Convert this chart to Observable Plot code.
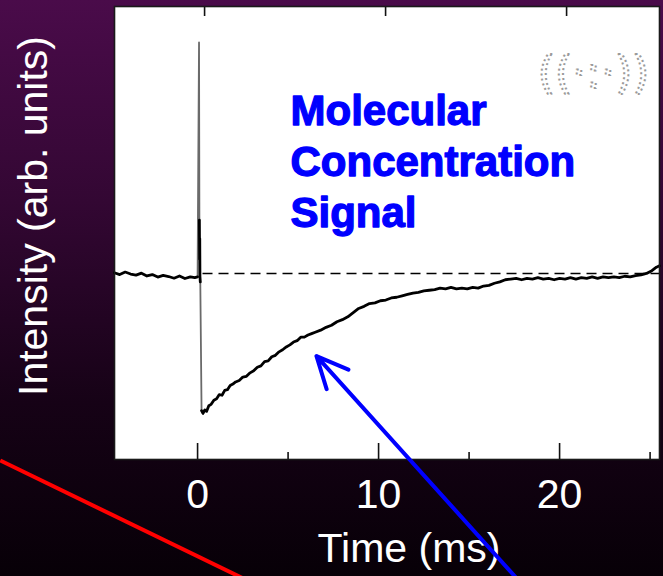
<!DOCTYPE html>
<html>
<head>
<meta charset="utf-8">
<script src="https://cdn.jsdelivr.net/npm/d3@7"></script>
<script src="https://cdn.jsdelivr.net/npm/@observablehq/plot@0.6"></script>
<style>
  html, body { margin: 0; padding: 0; overflow: hidden; background: #070007; }
  #chart svg { display: block; }
</style>
</head>
<body>
<div id="chart"></div>
<script>
// Baseline before the trigger (time in ms, intensity in arb. units)
const preT = [-4.6, -4.3, -4.0, -3.7, -3.4, -3.1, -2.8, -2.5, -2.2, -1.9, -1.6, -1.3, -1.0, -0.7, -0.4, -0.15, 0.0];
const preV = [0.005, -0.008, 0.01, -0.004, -0.012, 0.002, -0.018, -0.008, -0.026, -0.014, -0.022, -0.034, -0.018, -0.036, -0.024, -0.03, -0.025];

// Fast transient at the trigger: the upward spike and the drop
const spikeT = [0.0, 0.08, 0.1];
const spikeV = [-0.025, 1.65, 0.38];
const ringT = [0.1, 0.11, 0.12, 0.13, 0.15];
const ringV = [0.38, 0.1, 0.25, -0.02, -0.06];
const dropT = [0.15, 0.22];
const dropV = [-0.06, -0.98];

// Recovery of the molecular concentration signal
const recT = [0.22, 0.3, 0.4, 0.5, 0.62, 0.75, 0.9, 1.05, 1.2, 1.35, 1.5, 1.65, 1.8, 1.95, 2.1, 2.3, 2.5, 2.7, 2.9, 3.1,
  3.3, 3.5, 3.7, 3.9, 4.1, 4.3, 4.5, 4.7, 4.9, 5.1, 5.3, 5.5, 5.7, 5.9, 6.1, 6.3, 6.5, 6.8, 7.1, 7.4,
  7.7, 8.0, 8.3, 8.6, 8.9, 9.2, 9.5, 9.8, 10.1, 10.4, 10.7, 11.0, 11.3, 11.6, 11.9, 12.2, 12.5, 12.8, 13.1, 13.4,
  13.7, 14.0, 14.3, 14.6, 14.9, 15.2, 15.5, 15.8, 16.1, 16.4, 16.7, 17.0, 17.3, 17.6, 17.9, 18.2, 18.5, 18.8, 19.1, 19.4,
  19.7, 20.0, 20.3, 20.6, 20.9, 21.2, 21.5, 21.8, 22.1, 22.4, 22.7, 23.0, 23.3, 23.6, 23.9, 24.2, 24.5, 24.8, 25.1, 25.35, 25.52];
const recV = [-0.98, -1.0, -0.975, -0.985, -0.945, -0.935, -0.905, -0.895, -0.865, -0.87, -0.835, -0.83, -0.8, -0.79, -0.775, -0.765, -0.74, -0.735, -0.71, -0.695,
  -0.67, -0.66, -0.63, -0.625, -0.595, -0.585, -0.56, -0.545, -0.525, -0.51, -0.49, -0.48, -0.455, -0.455, -0.44, -0.43, -0.42, -0.405, -0.385, -0.37,
  -0.345, -0.33, -0.31, -0.28, -0.25, -0.235, -0.215, -0.21, -0.195, -0.19, -0.175, -0.17, -0.16, -0.15, -0.14, -0.135, -0.125, -0.12, -0.115, -0.105,
  -0.11, -0.1, -0.11, -0.105, -0.11, -0.1, -0.105, -0.09, -0.085, -0.07, -0.06, -0.045, -0.04, -0.035, -0.045, -0.035, -0.04, -0.03, -0.04, -0.035,
  -0.045, -0.035, -0.04, -0.03, -0.04, -0.03, -0.035, -0.025, -0.035, -0.025, -0.03, -0.025, -0.03, -0.02, -0.025, -0.015, -0.01, 0.0, 0.02, 0.045, 0.055];

// Axis ticks and labels
const majorTicks = [0, 10, 20];
const minorTicks = [5, 15, 25];
const xLabel = "Time (ms)";
const yLabel = "Intensity (arb. units)";
const note = "Molecular\nConcentration\nSignal";
const badge = "((·:·))";

// Annotation strokes: the pointer arrow and the red guide line
const arrowFrom = [17.85, -2.21];
const arrowTo = [6.57, -0.59];
const redLine = [[-10.9, -1.336], [3.5, -2.24]];

const toRows = (T, V) => T.map((t, i) => ({t, v: V[i]}));
const blackParts = [
  ...toRows(preT, preV).map(d => ({...d, z: "pre"})),
  ...toRows(ringT, ringV).map(d => ({...d, z: "ring"})),
  ...toRows(recT, recV).map(d => ({...d, z: "rec"}))
];
const greyParts = [
  ...toRows(spikeT, spikeV).map(d => ({...d, z: "spike"})),
  ...toRows(dropT, dropV).map(d => ({...d, z: "drop"}))
];

const whiteText = {fill: "white", fontFamily: "Liberation Sans, Arial, sans-serif", fontSize: 41};

const chart = Plot.plot({
  width: 663,
  height: 576,
  marginLeft: 114,
  marginRight: 4,
  marginTop: 6,
  marginBottom: 117,
  x: {domain: [-4.59, 25.52], axis: null},
  y: {domain: [-1.329, 1.907], axis: null},
  style: {
    background: "linear-gradient(to bottom, #4a0b4a 0%, #330733 35%, #160216 70%, #070007 100%)",
    overflow: "hidden"
  },
  marks: [
    Plot.frame({fill: "white", stroke: "none"}),
    // zero reference
    Plot.ruleY([0], {x1: 0.3, x2: 25.52, stroke: "black", strokeWidth: 1.6, strokeDasharray: "10,6"}),
    // signal trace
    Plot.line(greyParts, {x: "t", y: "v", z: "z", stroke: "#6a6a6a", strokeWidth: 1.8}),
    Plot.line(blackParts, {x: "t", y: "v", z: "z", stroke: "black", strokeWidth: 2.8, strokeLinejoin: "round"}),
    // inward ticks
    Plot.ruleX(majorTicks, {x: d => d, insetTop: 437, stroke: "#111", strokeWidth: 1.6}),
    Plot.ruleX(minorTicks, {x: d => d, insetTop: 446, stroke: "#111", strokeWidth: 1.6}),
    Plot.ruleX(majorTicks, {x: d => d, dx: 7, insetBottom: 443, stroke: "#111", strokeWidth: 1.6}),
    Plot.frame({stroke: "#1a1a1a", strokeWidth: 1.6}),
    // tick labels and axis titles
    Plot.text(majorTicks, {x: d => d, text: d => String(d), frameAnchor: "bottom", dy: 35, lineAnchor: "middle", ...whiteText}),
    Plot.text([xLabel], {text: d => d, frameAnchor: "bottom", dx: 22, dy: 89, lineAnchor: "middle", ...whiteText}),
    Plot.text([yLabel], {text: d => d, frameAnchor: "left", textAnchor: "middle", rotate: -90, dx: -81, dy: -17, lineAnchor: "middle", ...whiteText}),
    // annotation text
    Plot.text([note], {
      text: d => d, frameAnchor: "top-left", dx: 176, dy: 82, textAnchor: "start", lineAnchor: "top",
      lineHeight: 1.22, fill: "#0000ff", stroke: "#0000ff", strokeWidth: 1.3,
      fontFamily: "Liberation Sans, Arial, sans-serif", fontWeight: "bold", fontSize: 42
    }),
    Plot.text([badge], {
      text: d => d, frameAnchor: "top-right", textAnchor: "middle", dx: -66, dy: 67, lineAnchor: "middle",
      fill: "none", stroke: "#9a9a9a", strokeWidth: 2, strokeDasharray: "2,3",
      fontFamily: "DejaVu Sans", fontSize: 44, letterSpacing: "-5px"
    }),
    // pointer arrow and red guide line
    Plot.link([redLine], {x1: d => d[0][0], y1: d => d[0][1], x2: d => d[1][0], y2: d => d[1][1], stroke: "#ff0000", strokeWidth: 4}),
    Plot.arrow([[arrowFrom, arrowTo]], {
      x1: d => d[0][0], y1: d => d[0][1], x2: d => d[1][0], y2: d => d[1][1],
      stroke: "#0000ff", strokeWidth: 4, headLength: 13, headAngle: 50
    })
  ]
});

document.getElementById("chart").append(chart);
</script>
</body>
</html>
